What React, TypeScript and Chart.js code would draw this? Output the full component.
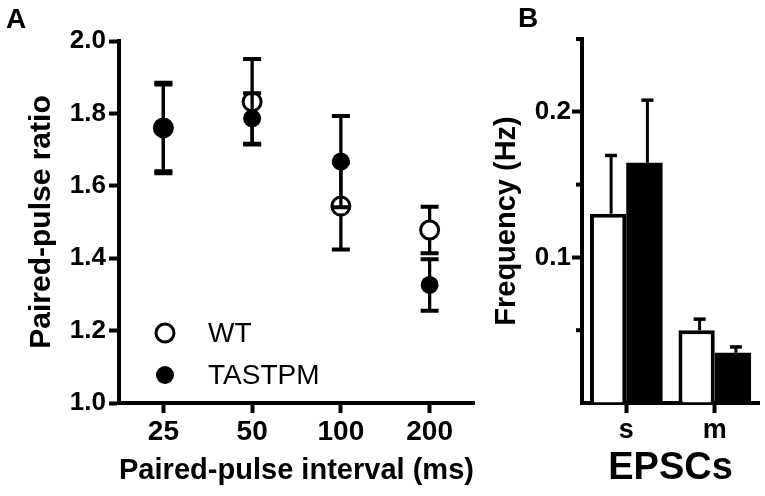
import React, { useEffect, useRef } from 'react';
import { Chart, registerables } from 'chart.js';

Chart.register(...registerables);

// ---------- Panel A data ----------
const intervals = ['25', '50', '100', '200'];
const wtMean = [1.76, 1.832, 1.544, 1.478];
const wtErr = [0.12, 0.118, 0.12, 0.064];
const tgMean = [1.76, 1.786, 1.667, 1.326];
const tgErr = [0.125, 0.07, 0.126, 0.071];
const ratioMin = 1.0;
const ratioMax = 2.0;
const ratioStep = 0.2;

// ---------- Panel B data ----------
const epscTypes = ['s', 'm'];
const wtFreq = [0.13, 0.05];
const wtFreqErr = [0.04, 0.0076];
const tgFreq = [0.165, 0.0345];
const tgFreqErr = [0.043, 0.004];
const freqMax = 0.25;
const freqStep = 0.05;
const freqLabelled = [0.1, 0.2];

const FONT = "'Liberation Sans', Arial, Helvetica, sans-serif";
Chart.defaults.font.family = FONT;
Chart.defaults.color = '#000';

const errorBarsA = {
  id: 'errorBarsA',
  beforeDatasetDraw(chart: any, args: any) {
    const ds = chart.data.datasets[args.index];
    const errs = ds.errors;
    if (!errs) return;
    const y = chart.scales.y;
    const ctx = chart.ctx;
    ctx.save();
    ctx.strokeStyle = '#000';
    ctx.lineCap = 'butt';
    args.meta.data.forEach((pt: any, i: number) => {
      const x = pt.x;
      const yTop = y.getPixelForValue(ds.data[i] + errs[i]);
      const yBot = y.getPixelForValue(ds.data[i] - errs[i]);
      ctx.lineWidth = 3.3;
      ctx.beginPath();
      ctx.moveTo(x, yTop);
      ctx.lineTo(x, yBot);
      ctx.stroke();
      ctx.lineWidth = 4;
      ctx.beginPath();
      ctx.moveTo(x - 9, yTop);
      ctx.lineTo(x + 9, yTop);
      ctx.moveTo(x - 9, yBot);
      ctx.lineTo(x + 9, yBot);
      ctx.stroke();
    });
    ctx.restore();
  },
};

const legendA = {
  id: 'legendA',
  afterDraw(chart: any) {
    const { ctx, chartArea } = chart;
    const mx = chartArea.left + 46;
    const rows = [chartArea.top + 292, chartArea.top + 334];
    const order = [1, 0]; // WT, TASTPM
    ctx.save();
    order.forEach((dsIndex, r) => {
      const ds = chart.data.datasets[dsIndex];
      const yy = rows[r];
      ctx.beginPath();
      ctx.arc(mx, yy, 9, 0, Math.PI * 2);
      ctx.fillStyle = ds.backgroundColor;
      ctx.fill();
      if (ds.borderWidth > 0) {
        ctx.lineWidth = ds.borderWidth;
        ctx.strokeStyle = ds.borderColor;
        ctx.stroke();
      }
      ctx.fillStyle = '#000';
      ctx.font = `28px ${FONT}`;
      ctx.textBaseline = 'middle';
      ctx.textAlign = 'left';
      ctx.fillText(ds.label, mx + 43, yy + 1);
    });
    ctx.restore();
  },
};

const errorBarsB = {
  id: 'errorBarsB',
  afterDatasetsDraw(chart: any) {
    const y = chart.scales.y;
    const ctx = chart.ctx;
    ctx.save();
    ctx.strokeStyle = '#000';
    chart.data.datasets.forEach((ds: any, di: number) => {
      const meta = chart.getDatasetMeta(di);
      meta.data.forEach((bar: any, i: number) => {
        const x = bar.x + 3;
        const yTop = y.getPixelForValue(ds.data[i] + ds.errors[i]);
        const yBar = y.getPixelForValue(ds.data[i]);
        ctx.lineWidth = 3;
        ctx.beginPath();
        ctx.moveTo(x, yBar);
        ctx.lineTo(x, yTop);
        ctx.stroke();
        ctx.lineWidth = 3.5;
        ctx.beginPath();
        ctx.moveTo(x - 6, yTop);
        ctx.lineTo(x + 6, yTop);
        ctx.stroke();
      });
    });
    ctx.restore();
  },
};

const isLabelled = (v: number) => freqLabelled.some((l) => Math.abs(l - v) < 1e-9);

const minorTicksB = {
  id: 'minorTicksB',
  afterDraw(chart: any) {
    const y = chart.scales.y;
    const ctx = chart.ctx;
    const x0 = chart.chartArea.left;
    ctx.save();
    ctx.strokeStyle = '#000';
    ctx.lineWidth = 4;
    y.ticks.forEach((t: any) => {
      if (isLabelled(t.value) || t.value < 1e-9) return;
      const py = y.getPixelForValue(t.value);
      ctx.beginPath();
      ctx.moveTo(x0 - 6, py);
      ctx.lineTo(x0, py);
      ctx.stroke();
    });
    ctx.restore();
  },
};

const axisGrid = {
  display: true,
  drawOnChartArea: false,
  drawTicks: true,
  tickLength: 10,
  tickWidth: 4,
  tickColor: '#000',
  color: '#000',
};
const axisBorder = { display: true, color: '#000', width: 4 };

export default function App() {
  const refA = useRef<HTMLCanvasElement | null>(null);
  const refB = useRef<HTMLCanvasElement | null>(null);

  useEffect(() => {
    const chartA = new Chart(refA.current as HTMLCanvasElement, {
      type: 'line',
      data: {
        labels: intervals,
        datasets: [
          {
            label: 'TASTPM',
            data: tgMean,
            errors: tgErr,
            showLine: false,
            pointRadius: 9,
            pointHoverRadius: 9,
            pointBorderWidth: 0,
            backgroundColor: '#000',
            borderColor: '#000',
            borderWidth: 0,
            pointBackgroundColor: '#000',
            order: 0,
          } as any,
          {
            label: 'WT',
            data: wtMean,
            errors: wtErr,
            showLine: false,
            pointRadius: 9,
            pointHoverRadius: 9,
            pointBorderWidth: 3,
            backgroundColor: '#fff',
            borderColor: '#000',
            borderWidth: 3,
            pointBackgroundColor: '#fff',
            pointBorderColor: '#000',
            order: 1,
          } as any,
        ],
      },
      options: {
        animation: false,
        responsive: false,
        events: [],
        layout: { padding: { top: 41, right: 4, left: 0, bottom: 0 } },
        plugins: { legend: { display: false }, tooltip: { enabled: false } },
        scales: {
          x: {
            type: 'category',
            offset: true,
            grid: { ...axisGrid, offset: false },
            border: axisBorder,
            ticks: { font: { size: 28, weight: 'bold', lineHeight: 1 }, padding: 5, color: '#000' },
            title: {
              display: true,
              text: 'Paired-pulse interval (ms)',
              font: { size: 30, weight: 'bold', lineHeight: 1 },
              padding: { top: 0, bottom: 10 },
              color: '#000',
            },
            afterFit: (s: any) => {
              s.height = 93;
            },
          },
          y: {
            min: ratioMin,
            max: ratioMax,
            grid: axisGrid,
            border: axisBorder,
            ticks: {
              stepSize: ratioStep,
              font: { size: 26, weight: 'bold', lineHeight: 1 },
              padding: 3,
              color: '#000',
              callback: (v: any) => Number(v).toFixed(1),
            },
            title: {
              display: true,
              text: 'Paired-pulse ratio',
              font: { size: 30, weight: 'bold', lineHeight: 1 },
              padding: { top: 27, bottom: 0 },
              color: '#000',
            },
            afterFit: (s: any) => {
              s.width = 119;
            },
          },
        },
      } as any,
      plugins: [errorBarsA, legendA],
    });

    const chartB = new Chart(refB.current as HTMLCanvasElement, {
      type: 'bar',
      data: {
        labels: epscTypes,
        datasets: [
          {
            label: 'WT',
            data: wtFreq,
            errors: wtFreqErr,
            backgroundColor: '#fff',
            borderColor: '#000',
            borderWidth: 4,
            borderSkipped: 'bottom',
          } as any,
          {
            label: 'TASTPM',
            data: tgFreq,
            errors: tgFreqErr,
            backgroundColor: '#000',
            borderColor: '#000',
            borderWidth: 0,
          } as any,
        ],
      },
      options: {
        animation: false,
        responsive: false,
        events: [],
        categoryPercentage: 0.82,
        barPercentage: 1.0,
        layout: { padding: { top: 39, right: 6, left: 0, bottom: 0 } },
        plugins: { legend: { display: false }, tooltip: { enabled: false } },
        scales: {
          x: {
            type: 'category',
            offset: true,
            grid: { ...axisGrid, offset: false },
            border: axisBorder,
            ticks: { font: { size: 27, weight: 'bold', lineHeight: 1 }, padding: 4, color: '#000' },
            title: {
              display: true,
              text: 'EPSCs',
              font: { size: 38, weight: 'bold', lineHeight: 1 },
              padding: { top: 0, bottom: 8 },
              color: '#000',
            },
            afterFit: (s: any) => {
              s.height = 93;
            },
          },
          y: {
            min: 0,
            max: freqMax,
            grid: {
              ...axisGrid,
              tickColor: (c: any) => (c.tick && isLabelled(c.tick.value) ? '#000' : 'rgba(0,0,0,0)'),
            },
            border: axisBorder,
            ticks: {
              stepSize: freqStep,
              font: { size: 26, weight: 'bold', lineHeight: 1 },
              padding: 1,
              color: '#000',
              callback: (v: any) => (isLabelled(Number(v)) ? Number(v).toFixed(1) : ''),
            },
            title: {
              display: true,
              text: 'Frequency (Hz)',
              font: { size: 29, weight: 'bold', lineHeight: 1 },
              padding: { top: 6, bottom: 0 },
              color: '#000',
            },
            afterFit: (s: any) => {
              s.width = 96;
            },
          },
        },
      } as any,
      plugins: [errorBarsB, minorTicksB],
    });

    return () => {
      chartA.destroy();
      chartB.destroy();
    };
  }, []);

  const panelLabel = (text: string, left: number, top: number) => (
    <div
      style={{
        position: 'absolute',
        left,
        top,
        font: `bold 28px ${FONT}`,
        lineHeight: '28px',
        color: '#000',
      }}
    >
      {text}
    </div>
  );

  return (
    <div style={{ position: 'absolute', left: 0, top: 0, width: 765, height: 496, background: '#fff', overflow: 'hidden' }}>
      <canvas ref={refA} width={486} height={496} style={{ position: 'absolute', left: 0, top: 0, width: 486, height: 496 }} />
      <canvas ref={refB} width={279} height={496} style={{ position: 'absolute', left: 486, top: 0, width: 279, height: 496 }} />
      {panelLabel('A', 6, 5)}
      {panelLabel('B', 518, 4)}
    </div>
  );
}
